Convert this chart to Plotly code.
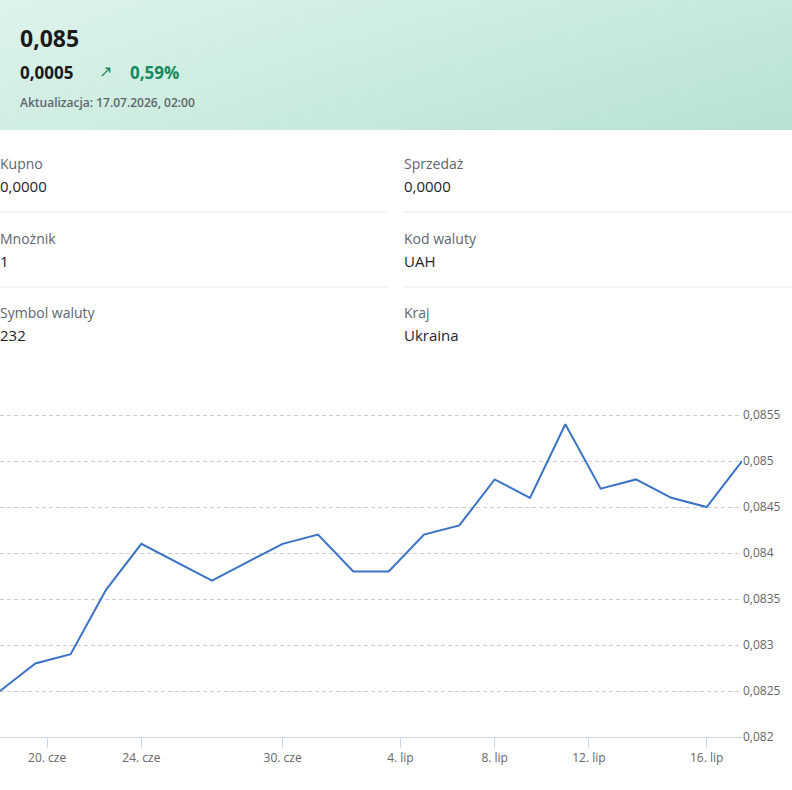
import numpy as np
import pandas as pd
import plotly.graph_objects as go

# kurs UAH - dni robocze 18.06 - 17.07.2026
dates = ["2026-06-18", "2026-06-19", "2026-06-22", "2026-06-23", "2026-06-24",
         "2026-06-25", "2026-06-26", "2026-06-29", "2026-06-30", "2026-07-01",
         "2026-07-02", "2026-07-03", "2026-07-06", "2026-07-07", "2026-07-08",
         "2026-07-09", "2026-07-10", "2026-07-13", "2026-07-14", "2026-07-15",
         "2026-07-16", "2026-07-17"]
rates = [0.0825, 0.0828, 0.0829, 0.0836, 0.0841, 0.0839, 0.0837, 0.0839,
         0.0841, 0.0842, 0.0838, 0.0838, 0.0842, 0.0843, 0.0848, 0.0846,
         0.0854, 0.0847, 0.0848, 0.0846, 0.0845, 0.0850]

tick_dates = ["2026-06-20", "2026-06-24", "2026-06-30", "2026-07-04",
              "2026-07-08", "2026-07-12", "2026-07-16"]
tick_labels = ["20. cze", "24. cze", "30. cze", "4. lip", "8. lip", "12. lip", "16. lip"]

info_labels = ["Kupno", "Sprzedaż", "Mnożnik", "Kod waluty", "Symbol waluty", "Kraj"]
info_values = ["0,0000", "0,0000", "1", "UAH", "232", "Ukraina"]

rate_now = "0,085"
change_abs = "0,0005"
change_pct = "0,59%"
updated = "Aktualizacja: 17.07.2026, 02:00"

W, H = 792, 790
FONT = "Open Sans"


def py(p):
    return 1 - p / H


def px_(p):
    return p / W


# ordinal axis: points evenly spaced, tick dates interpolated between trading days
d = pd.to_datetime(dates)
idx = np.arange(len(dates))
tick_pos = np.interp(pd.to_datetime(tick_dates).astype("int64"), d.astype("int64"), idx)

fig = go.Figure()

# header gradient
fig.add_trace(go.Heatmap(
    z=[[0.3, 1.0], [0.0, 0.6]], x=[0, 1], y=[0, 1],
    colorscale=[[0, "#ddf3eb"], [1, "#b6e2d1"]],
    zsmooth="best", showscale=False, hoverinfo="skip",
    xaxis="x2", yaxis="y2"))

fig.add_trace(go.Scatter(
    x=idx, y=rates, mode="lines",
    line=dict(color="#3a72c6", width=2),
    hoverinfo="skip", cliponaxis=True))

fig.update_layout(
    width=W, height=H,
    margin=dict(l=0, r=0, t=0, b=0, autoexpand=False),
    paper_bgcolor="white", plot_bgcolor="white",
    showlegend=False,
    separators=", ",
    font=dict(family=FONT, color="#666666", size=12),
    xaxis=dict(domain=[0, px_(742)], range=[0, len(dates) - 1],
               tickvals=tick_pos, ticktext=tick_labels,
               showgrid=False, zeroline=False, automargin=False,
               showline=True, linecolor="#ccd6eb", linewidth=1,
               ticks="outside", ticklen=10, tickcolor="#ccd6eb",
               tickfont=dict(size=12, color="#666666"), fixedrange=True),
    yaxis=dict(domain=[py(737), py(413.2)], range=[0.082, 0.08552],
               side="right", dtick=0.0005, tick0=0.082, tickformat="~g",
               showgrid=True, gridcolor="#cccccc", griddash="4px,3px",
               gridwidth=1, zeroline=False, showline=False, automargin=False,
               ticks="", tickfont=dict(size=12, color="#666666"), fixedrange=True),
    xaxis2=dict(domain=[0, 1], range=[0, 1], visible=False, anchor="y2",
                automargin=False, fixedrange=True),
    yaxis2=dict(domain=[py(130), 1], range=[0, 1], visible=False,
                anchor="x2", automargin=False, fixedrange=True),
)

ann = []


def text(x, y, s, size, color, weight=400):
    ann.append(dict(x=px_(x), y=py(y), xref="paper", yref="paper", text=s,
                    showarrow=False, xanchor="left", yanchor="middle",
                    font=dict(family=FONT, size=size, color=color, weight=weight)))


text(18, 38, rate_now, 23, "#1a1a1a", 700)
text(18, 72, change_abs, 17, "#1a1a1a", 700)
text(97, 71, "↗", 16, "#148a5e", 400)
text(128, 72, change_pct, 17, "#148a5e", 700)
text(18, 102, updated, 12, "#5d676c", 600)

rows_y = [163, 238, 312]
cols_x = [-2, 402]
for i, (lab, val) in enumerate(zip(info_labels, info_values)):
    r, c = divmod(i, 2)
    text(cols_x[c], rows_y[r], lab, 14, "#5c6670", 400)
    text(cols_x[c], rows_y[r] + 23, val, 15, "#1f2328", 500)

shapes = []
for ly in [212, 287]:
    for x0, x1 in [(0, 387), (404, 792)]:
        shapes.append(dict(type="line", xref="paper", yref="paper",
                           x0=px_(x0), x1=px_(x1), y0=py(ly), y1=py(ly),
                           line=dict(color="#e5e8ea", width=1)))

fig.update_layout(annotations=ann, shapes=shapes)
fig.write_html("out.html", config={"displayModeBar": False},
               post_script="document.body.style.margin='0';")
